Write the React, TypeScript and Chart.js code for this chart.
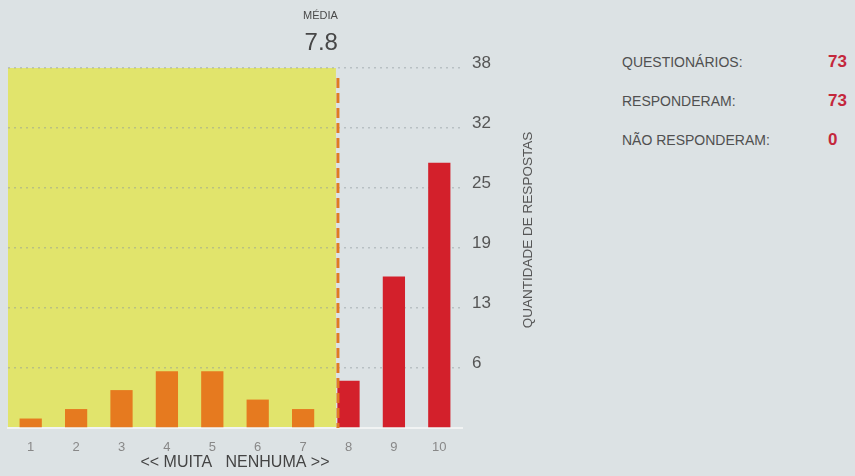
import React, { useEffect, useRef } from "react";
import { Chart, registerables } from "chart.js";

Chart.register(...registerables);

// ---- data ----
const categories = ["1", "2", "3", "4", "5", "6", "7", "8", "9", "10"];
const counts = [1, 2, 4, 6, 6, 3, 2, 5, 16, 28];
const yMax = 38;
const yTickCount = 7;
const summaryLabels = ["QUESTIONÁRIOS:", "RESPONDERAM:", "NÃO RESPONDERAM:"];
const summaryValues = [73, 73, 0];
const xTitle = "<< MUITA   NENHUMA >>";
const yTitle = "QUANTIDADE DE RESPOSTAS";
const meanLabel = "MÉDIA";

const total = counts.reduce((a, b) => a + b, 0);
const mean = counts.reduce((s, c, i) => s + c * Number(categories[i]), 0) / total;

// ---- styles ----
const FONT = "'Liberation Sans', Arial, Helvetica, sans-serif";
const BG = "#dce2e4";
const YELLOW = "#e1e46c";
const ORANGE = "#e67a1f";
const RED = "#d3202b";
const MEAN_LINE = "#e07a22";
const VALUE_RED = "#c4283c";

const decorPlugin = {
  id: "decor",
  beforeDraw(chart: any) {
    const { ctx, chartArea, scales } = chart;
    const xm = scales.x.getPixelForValue(mean - 1);
    const yTop = scales.y.getPixelForValue(yMax);
    const yBot = scales.y.getPixelForValue(0);
    ctx.save();
    ctx.fillStyle = YELLOW;
    ctx.fillRect(chartArea.left, yTop, xm - 2 - chartArea.left, yBot - yTop);
    ctx.restore();
  },
  afterDatasetsDraw(chart: any) {
    const { ctx, scales } = chart;
    const xm = scales.x.getPixelForValue(mean - 1);
    const yTop = scales.y.getPixelForValue(yMax);
    const yBot = scales.y.getPixelForValue(0);
    ctx.save();
    ctx.strokeStyle = MEAN_LINE;
    ctx.lineWidth = 3;
    ctx.setLineDash([10, 5]);
    ctx.beginPath();
    ctx.moveTo(xm, yTop + 10);
    ctx.lineTo(xm, yBot);
    ctx.stroke();
    ctx.restore();
  },
  afterDraw(chart: any) {
    const { ctx, scales } = chart;
    const xm = scales.x.getPixelForValue(mean - 1);
    ctx.save();
    ctx.textAlign = "right";
    ctx.textBaseline = "middle";
    ctx.fillStyle = "#4a4a4a";
    ctx.font = `11px ${FONT}`;
    ctx.fillText(meanLabel, xm, 16);
    ctx.fillStyle = "#474747";
    ctx.font = `24px ${FONT}`;
    ctx.fillText(mean.toFixed(1), xm, 43);
    // y axis title, reading bottom to top
    ctx.translate(528, 230);
    ctx.rotate(-Math.PI / 2);
    ctx.textAlign = "center";
    ctx.fillStyle = "#555";
    ctx.font = `13.5px ${FONT}`;
    ctx.fillText(yTitle, 0, 0);
    ctx.restore();
  },
};

export default function App() {
  const canvasRef = useRef<HTMLCanvasElement | null>(null);

  useEffect(() => {
    if (!canvasRef.current) return;
    const chart = new Chart(canvasRef.current, {
      type: "bar",
      data: {
        labels: categories,
        datasets: [
          {
            data: counts,
            backgroundColor: categories.map((c) => (Number(c) < mean ? ORANGE : RED)),
            borderWidth: 0,
            barPercentage: 0.49,
            categoryPercentage: 1,
          },
        ],
      },
      options: {
        responsive: false,
        animation: false,
        layout: { padding: { left: 8, top: 68, right: 0, bottom: 0 } },
        plugins: { legend: { display: false }, tooltip: { enabled: false } },
        scales: {
          x: {
            afterFit: (s: any) => {
              s.height = 48;
            },
            grid: { display: false },
            border: { display: true, color: "#f1f3f3", width: 2 },
            ticks: { color: "#888", font: { family: FONT, size: 13 }, padding: 4 },
            title: {
              display: true,
              text: xTitle,
              color: "#444",
              font: { family: FONT, size: 16 },
              padding: { top: 4, bottom: 4 },
            },
          },
          y: {
            position: "right",
            min: 0,
            max: yMax,
            afterFit: (s: any) => {
              s.width = 98;
            },
            grid: {
              drawTicks: false,
              color: (c: any) => (c.tick && c.tick.value === 0 ? "rgba(0,0,0,0)" : "rgba(140,150,155,0.45)"),
              lineWidth: 1.5,
            },
            border: { display: false, dash: [2, 4] },
            ticks: {
              count: yTickCount,
              padding: 10,
              labelOffset: -5,
              color: "#555",
              font: { family: FONT, size: 17 },
              callback: (v: any) => (Number(v) === 0 ? "" : String(Math.round(Number(v)))),
            },
          },
        },
      },
      plugins: [decorPlugin],
    } as any);
    return () => chart.destroy();
  }, []);

  const rowY = [62, 101, 140];

  return (
    <div
      style={{
        position: "fixed",
        left: 0,
        top: 0,
        width: 855,
        height: 476,
        background: BG,
        fontFamily: FONT,
        overflow: "hidden",
      }}
    >
      <canvas
        ref={canvasRef}
        width={560}
        height={476}
        style={{ position: "absolute", left: 0, top: 0, width: 560, height: 476 }}
      />
      {summaryLabels.map((label, i) => (
        <React.Fragment key={label}>
          <div
            style={{
              position: "absolute",
              left: 622,
              top: rowY[i] - 9,
              height: 18,
              lineHeight: "18px",
              fontSize: 14,
              color: "#505050",
              whiteSpace: "nowrap",
            }}
          >
            {label}
          </div>
          <div
            style={{
              position: "absolute",
              left: 828,
              top: rowY[i] - 10,
              height: 20,
              lineHeight: "20px",
              fontSize: 17,
              fontWeight: "bold",
              color: VALUE_RED,
              whiteSpace: "nowrap",
            }}
          >
            {summaryValues[i]}
          </div>
        </React.Fragment>
      ))}
    </div>
  );
}
